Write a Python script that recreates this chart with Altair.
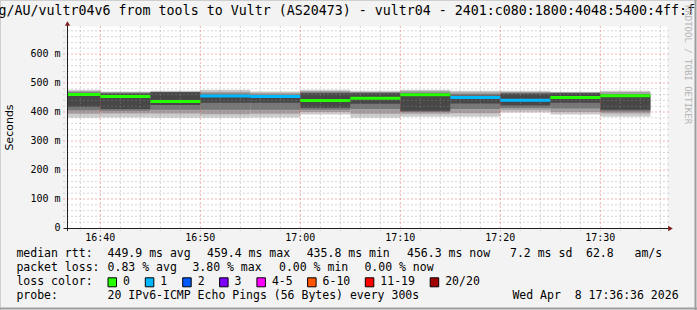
import altair as alt
import pandas as pd

# ---------------- data ----------------
DAY = "2026-04-08"
seg_end = ["16:40", "16:45", "16:50", "16:55", "17:00", "17:05",
           "17:10", "17:15", "17:20", "17:25", "17:30", "17:35"]
median_ms = [460.5, 453.8, 435.8, 455.0, 453.5, 440.0, 447.0, 459.4, 450.0, 440.5, 450.0, 456.3]
loss_count = [0, 0, 0, 1, 1, 0, 0, 0, 1, 1, 0, 0]

smoke_max = [477, 471, 473, 477, 471, 477, 473, 477, 473, 473, 470, 473]
smoke_min = [380, 381, 380, 380, 381, 391, 380, 384, 384, 398, 391, 384]
band_b_hi = [472, 468, 470, 470, 466, 472, 469, 472, 468, 469, 467, 469]
band_b_lo = [394, 395, 395, 392, 394, 400, 394, 394, 396, 406, 400, 395]
band_c_hi = [468, 466, 469, 464, 460, 468, 467, 466, 462, 466, 466, 462]
band_c_lo = [406, 404, 408, 408, 408, 408, 410, 400, 410, 414, 412, 402]
band_d_hi = [465, 463, 468, 456, 453, 465, 465, 463, 456, 463, 465, 456]
band_d_lo = [418, 410, 424, 432, 432, 415, 428, 404, 429, 422, 432, 408]

x_ticks = ["16:40", "16:50", "17:00", "17:10", "17:20", "17:30"]
y_ticks = [0, 100, 200, 300, 400, 500, 600]
y_tick_labels = ["0\u00a0\u00a0", "100 m", "200 m", "300 m", "400 m", "500 m", "600 m"]

loss_labels = ["0", "1", "2", "3", "4-5", "6-10", "11-19", "20/20"]
loss_colors = ["#26ff00", "#00b8ff", "#0059ff", "#7e00ff", "#ff00ff", "#ff5500", "#ff0000", "#a00000"]

title_text = "g/AU/vultr04v6 from tools to Vultr (AS20473) - vultr04 - 2401:c080:1800:4048:5400:4ff:f"
rtt_stats = ["449.9 ms avg", "459.4 ms max", "435.8 ms min", "456.3 ms now", "7.2 ms sd",
             "62.8\u00a0\u00a0\u00a0am/s"]
loss_stats = ["0.83 % avg", "3.80 % max", "0.00 % min", "0.00 % now"]
probe_text = "20 IPv6-ICMP Echo Pings (56 Bytes) every 300s"
date_text = "Wed Apr\u00a0 8 17:36:36 2026"
watermark = "RRDTOOL / TOBI OETIKER"

# ---------------- layout ----------------
W, H = 600, 202
X0, Y0 = 67, 26
MONO = "DejaVu Sans Mono"


def ms(t):
    return int(pd.Timestamp(f"{DAY} {t}", tz="UTC").value // 10**6)


xs = alt.Scale(domain=[ms("16:36:40"), ms("17:36:40")], nice=False, zero=False)
ys = alt.Scale(domain=[0, 696.5], nice=False, zero=False)

end_ms = [ms(t) for t in seg_end]
start_ms = [e - 300000 for e in end_ms]

bands = [("A", smoke_min, smoke_max), ("B", band_b_lo, band_b_hi),
         ("C", band_c_lo, band_c_hi), ("D", band_d_lo, band_d_hi)]
band_colors = ["#cccccc", "#a2a2a2", "#767676", "#474747"]
rows = []
for name, lo, hi in bands:
    for i in range(len(seg_end)):
        rows.append(dict(t0=start_ms[i], t1=end_ms[i], lo=lo[i], hi=hi[i], band=name))
smoke_df = pd.DataFrame(rows)

med_df = pd.DataFrame(dict(t0=start_ms, t1=end_ms, med=median_ms,
                           loss=[loss_labels[c] for c in loss_count]))

one = pd.DataFrame({"a": [0]})

smoke = alt.Chart(smoke_df).mark_rect(clip=True).encode(
    x=alt.X("t0:Q", scale=xs, axis=None),
    x2="t1:Q",
    y=alt.Y("lo:Q", scale=ys, axis=None),
    y2="hi:Q",
    color=alt.Color("band:N", scale=alt.Scale(domain=["A", "B", "C", "D"], range=band_colors), legend=None),
)

# grid
gx_major = [ms(t) for t in x_ticks]
gx_minor = [ms("16:36") + k * 120000 for k in range(1, 31)]
gx_minor = [v for v in gx_minor if v not in gx_major]
gy_major = [v for v in range(100, 700, 100)]
gy_minor = [v for v in range(20, 700, 20) if v % 100 != 0]


def vgrid(vals, color):
    return alt.Chart(pd.DataFrame({"v": vals})).mark_rule(
        color=color, strokeOpacity=0.37, strokeDash=[2, 2], strokeWidth=1, clip=False).encode(
        x=alt.X("v:Q", scale=xs, axis=None), y=alt.value(0), y2=alt.value(H + 3))


def hgrid(vals, color):
    return alt.Chart(pd.DataFrame({"v": vals})).mark_rule(
        color=color, strokeOpacity=0.37, strokeDash=[2, 2], strokeWidth=1).encode(
        y=alt.Y("v:Q", scale=ys, axis=None), x=alt.value(-4), x2=alt.value(W + 2))


grids = [vgrid(gx_minor, "#8f8f8f"), hgrid(gy_minor, "#8f8f8f"),
         vgrid(gx_major, "#de3030"), hgrid(gy_major, "#de3030")]

median = alt.Chart(med_df).mark_rule(strokeWidth=3, clip=True).encode(
    x=alt.X("t0:Q", scale=xs, axis=None), x2="t1:Q",
    y=alt.Y("med:Q", scale=ys, axis=None),
    color=alt.Color("loss:N", scale=alt.Scale(domain=loss_labels, range=loss_colors), legend=None),
)

# tick labels through the scales
xlab = alt.Chart(pd.DataFrame({"v": gx_major, "lab": x_ticks})).mark_text(
    font=MONO, fontSize=10, align="center", baseline="middle", color="#000000").encode(
    x=alt.X("v:Q", scale=xs, axis=None), y=alt.value(237.7 - Y0), text="lab:N")
ylab = alt.Chart(pd.DataFrame({"v": y_ticks, "lab": y_tick_labels})).mark_text(
    font=MONO, fontSize=10, align="right", baseline="middle", color="#000000").encode(
    y=alt.Y("v:Q", scale=ys, axis=None), x=alt.value(60.5 - X0), text="lab:N")


def txt(text, px, py, size=11.5, font=MONO, align="left", color="#000000", angle=0, baseline="middle"):
    kw = dict(text=text, fontSize=size, font=font, align=align, baseline=baseline, color=color)
    if angle:
        kw["angle"] = angle
    return alt.Chart(one).mark_text(**kw).encode(x=alt.value(px - X0), y=alt.value(py - Y0))


def line(px0, py0, px1, py1, color, w=1):
    return alt.Chart(one).mark_rule(color=color, strokeWidth=w).encode(
        x=alt.value(px0 - X0), y=alt.value(py0 - Y0), x2=alt.value(px1 - X0), y2=alt.value(py1 - Y0))


deco = []
# axes lines & arrows
deco.append(line(63.5, 228.5, 669, 228.5, "#1f1f1f"))
deco.append(line(67.5, 231, 67.5, 25, "#1f1f1f"))
deco.append(alt.Chart(one).mark_point(shape="triangle-up", filled=True, size=28, color="#7f1f1f", opacity=1).encode(
    x=alt.value(67.5 - X0), y=alt.value(23.5 - Y0)))
deco.append(alt.Chart(one).mark_point(shape="triangle-right", filled=True, size=28, color="#7f1f1f", opacity=1).encode(
    x=alt.value(670.5 - X0), y=alt.value(228.5 - Y0)))

# frame
deco.append(line(0, 0.5, 697, 0.5, "#cfcfcf"))
deco.append(line(0.5, 0, 0.5, 310, "#cfcfcf"))
deco.append(line(695.5, 0, 695.5, 310, "#9e9e9e", 2))
deco.append(line(0, 308.5, 697, 308.5, "#9e9e9e", 2))

# title, axis title, watermark
deco.append(txt(title_text, -1.5, 11, size=13.3))
deco.append(txt("Seconds", 10, 127.5, size=11, font="DejaVu Sans", align="center", angle=270))
deco.append(txt(watermark, 688, 64.5, size=9, align="center", color="#b4b4b4", angle=90))

# footer
R1, R2, R3, R4 = 254.3, 268.3, 282.3, 296.3
deco.append(txt("median rtt:", 16.4, R1))
for s, px in zip(rtt_stats, [107.6, 207, 306.7, 407, 510, 586]):
    deco.append(txt(s, px, R1))
deco.append(txt("packet loss:", 16.4, R2))
for s, px in zip(loss_stats, [107.6, 192.4, 279, 364.4]):
    deco.append(txt(s, px, R2))
deco.append(txt("loss color:", 16.4, R3))
for lab, col, bx in zip(loss_labels, loss_colors, [108, 145.3, 182.7, 219.6, 256.9, 307.6, 365.3, 430.2]):
    deco.append(alt.Chart(one).mark_rect(color=col, stroke="#000000", strokeWidth=1).encode(
        x=alt.value(bx - X0), x2=alt.value(bx + 8.5 - X0),
        y=alt.value(R3 - 4.5 - Y0), y2=alt.value(R3 + 4.5 - Y0)))
    deco.append(txt(lab, bx + 15, R3))
deco.append(txt("probe:", 16.4, R4))
deco.append(txt(probe_text, 107.6, R4))
deco.append(txt(date_text, 512.4, R4))

chart = alt.layer(smoke, *grids, median, xlab, ylab, *deco).resolve_scale(color="independent").properties(
    width=W, height=H,
    autosize=alt.AutoSizeParams(type="none"),
    padding={"left": X0, "top": Y0, "right": 697 - X0 - W, "bottom": 310 - Y0 - H},
    background="#f3f3f3",
).configure_view(fill="#ffffff", strokeOpacity=0)

chart.save("out.html", embed_options={"renderer": "svg", "actions": False})
